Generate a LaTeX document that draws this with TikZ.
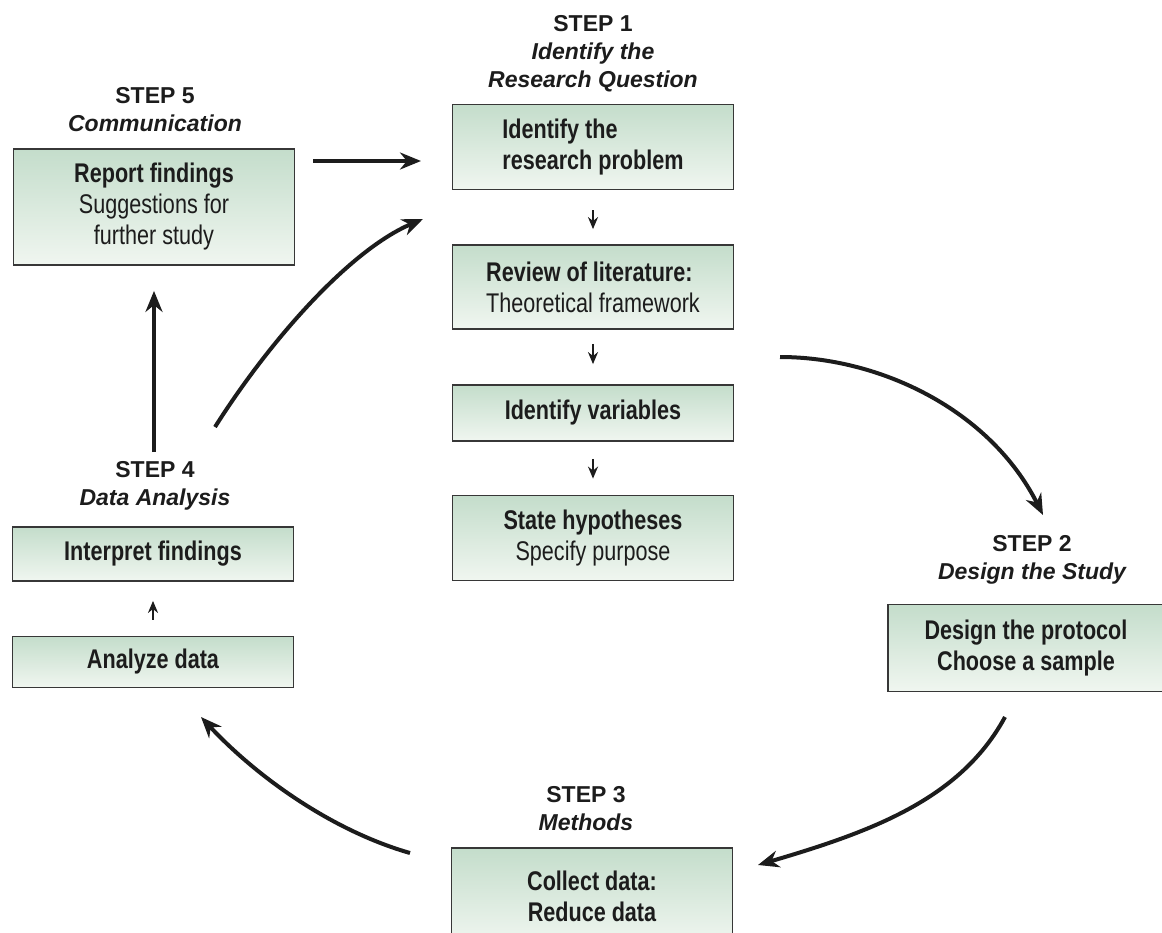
\documentclass[tikz,border=0pt]{standalone}
\usepackage{fontspec}
\setmainfont{Liberation Sans}
\newfontfamily\boxfont{Liberation Sans}[FakeStretch=0.8]
\usetikzlibrary{arrows.meta,shadings}
\definecolor{boxtop}{RGB}{196,221,203}
\definecolor{boxbot}{RGB}{240,246,240}
\definecolor{boxline}{RGB}{55,55,55}
\definecolor{inkc}{RGB}{28,28,28}
\tikzset{
  stepbox/.style={draw=boxline, line width=1.8pt, top color=boxtop, bottom color=boxbot,
    inner sep=0pt, align=center, text=inkc,
    font=\boxfont\fontsize{27}{31}\selectfont},
  steptitle/.style={anchor=north, inner sep=0pt, align=center, text=inkc,
    font=\fontsize{23}{28}\selectfont\bfseries},
  bigarr/.style={draw=inkc, line width=4pt, -{Stealth[length=21pt,width=17pt]}},
  smallarr/.style={draw=inkc, line width=2pt, -{Stealth[length=12pt,width=10pt]}}
}
\begin{document}
\begin{tikzpicture}[x=1pt,y=-1pt]
\useasboundingbox (0,0) rectangle (1162,932);
% STEP 1
\node[steptitle] (t1) at (593,15) {STEP 1\\\itshape Identify the\\\itshape Research Question};
\node[stepbox, minimum width=281pt, minimum height=85pt, align=left] (b1) at (593,147)
  {\bfseries Identify the\\\bfseries research problem};
\node[stepbox, minimum width=281pt, minimum height=84pt, align=left] (b2) at (593,287)
  {\bfseries Review of literature:\\Theoretical framework};
\node[stepbox, minimum width=281pt, minimum height=56pt] (b3) at (593,413)
  {\bfseries Identify variables};
\node[stepbox, minimum width=281pt, minimum height=85pt] (b4) at (593,538)
  {\bfseries State hypotheses\\Specify purpose};
% STEP 2
\node[steptitle] (t2) at (1032,535) {STEP 2\\\itshape Design the Study};
\node[stepbox, minimum width=276pt, minimum height=87pt] (s2) at (1026,648)
  {\bfseries Design the protocol\\\bfseries Choose a sample};
% STEP 3
\node[steptitle] (t3) at (586,786) {STEP 3\\\itshape Methods};
\node[stepbox, minimum width=281pt, minimum height=96pt] (s3) at (592,896)
  {\bfseries Collect data:\\\bfseries Reduce data};
% STEP 4
\node[steptitle] (t4) at (155,461) {STEP 4\\\itshape Data Analysis};
\node[stepbox, minimum width=281pt, minimum height=54pt] (i4) at (153,554)
  {\bfseries Interpret findings};
\node[stepbox, minimum width=281pt, minimum height=51pt] (a4) at (153,662)
  {\bfseries Analyze data};
% STEP 5
\node[steptitle] (t5) at (155,87) {STEP 5\\\itshape Communication};
\node[stepbox, minimum width=281pt, minimum height=116pt] (b5) at (154,207)
  {\bfseries Report findings\\Suggestions for\\further study};
% small arrows
\draw[smallarr, shorten <=20pt, shorten >=15pt] (b1.south) -- (b2.north);
\draw[smallarr, shorten <=14pt, shorten >=20pt] (b2.south) -- (b3.north);
\draw[smallarr, shorten <=17pt, shorten >=16pt] (b3.south) -- (b4.north);
\draw[smallarr, shorten <=16pt, shorten >=19pt] (a4.north) -- (i4.south);
% big arrows
\coordinate (p5a) at (313,161);
\coordinate (p5b) at (421,161);
\draw[bigarr] (p5a) -- (p5b);
\coordinate (p4up) at (154,452);
\draw[bigarr, shorten >=25pt] (p4up) -- (b5.south);
\coordinate (p41a) at (215,427);
\coordinate (p41b) at (423,219);
\draw[bigarr] (p41a) .. controls (270,340) and (350,250) .. (p41b);
\coordinate (p12a) at (780,357);
\coordinate (p12b) at (1043,515);
\draw[bigarr] (p12a) .. controls (880,357) and (990,410) .. (p12b);
\coordinate (p23a) at (1005,717);
\coordinate (p23b) at (758,865);
\draw[bigarr] (p23a) .. controls (960,800) and (870,832) .. (p23b);
\coordinate (p34a) at (410,853);
\coordinate (p34b) at (201,717);
\draw[bigarr] (p34a) .. controls (330,830) and (255,775) .. (p34b);
\end{tikzpicture}
\end{document}
